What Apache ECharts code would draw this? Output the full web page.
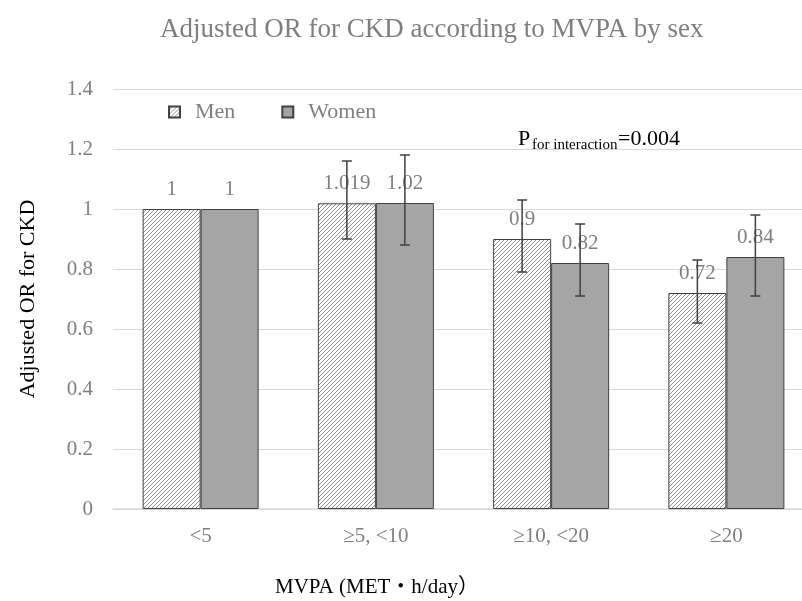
<!DOCTYPE html>
<html><head><meta charset="utf-8">
<script src="https://cdn.jsdelivr.net/npm/echarts@6/dist/echarts.min.js"></script>
<style>html,body{margin:0;padding:0;background:#fff}#c{width:802px;height:601px}</style>
</head><body><div id="c"></div>
<script>
var categories = ['<5', '\u22655, <10', '\u226510, <20', '\u226520'];
var menOR = [1, 1.019, 0.9, 0.72];
var womenOR = [1, 1.02, 0.82, 0.84];
var menLow = [null, 0.90, 0.79, 0.62];
var menHigh = [null, 1.16, 1.03, 0.83];
var womenLow = [null, 0.88, 0.71, 0.71];
var womenHigh = [null, 1.18, 0.95, 0.98];
var menLabels = ['1', '1.019', '0.9', '0.72'];
var womenLabels = ['1', '1.02', '0.82', '0.84'];
var yTicks = {min: 0, max: 1.4, interval: 0.2};

var FONT = '"Liberation Serif", "Times New Roman", "Noto Sans CJK JP", serif';
var GRAY = '#7f7f7f';
var BAR_W = 58;

function hatch() {
  var s = 4, c = document.createElement('canvas');
  c.width = s; c.height = s;
  var g = c.getContext('2d');
  g.fillStyle = '#ffffff'; g.fillRect(0, 0, s, s);
  g.strokeStyle = '#858585'; g.lineWidth = 0.9;
  g.beginPath();
  g.moveTo(0, s); g.lineTo(s, 0);
  g.moveTo(-1, 1); g.lineTo(1, -1);
  g.moveTo(s - 1, s + 1); g.lineTo(s + 1, s - 1);
  g.stroke();
  return c;
}

function errSeries(name, low, high, offset) {
  var data = low.map(function (l, i) { return [i, l, high[i]]; });
  return {
    type: 'custom', name: name + ' CI', silent: true, z: 10,
    data: data,
    renderItem: function (params, api) {
      if (api.value(1) == null || isNaN(api.value(1))) return null;
      var i = api.value(0);
      var p1 = api.coord([i, api.value(1)]);
      var p2 = api.coord([i, api.value(2)]);
      var x = p1[0] + offset, h = 5;
      var st = {stroke: '#404040', lineWidth: 1.5};
      return {type: 'group', children: [
        {type: 'line', shape: {x1: x, y1: p1[1], x2: x, y2: p2[1]}, style: st},
        {type: 'line', shape: {x1: x - h, y1: p1[1], x2: x + h, y2: p1[1]}, style: st},
        {type: 'line', shape: {x1: x - h, y1: p2[1], x2: x + h, y2: p2[1]}, style: st}
      ]};
    }
  };
}

var chart = echarts.init(document.getElementById('c'), null, {renderer: 'canvas'});
var hatchImg = hatch();
var option = {
  backgroundColor: '#ffffff',
  animation: false,
  title: {
    text: 'Adjusted OR for CKD according to MVPA by sex',
    left: 155, top: 11,
    textStyle: {fontFamily: FONT, fontSize: 27, fontWeight: 'normal', color: GRAY}
  },
  legend: {
    left: 163, top: 96, itemWidth: 11, itemHeight: 11, itemGap: 46,
    icon: 'rect',
    data: ['Men', 'Women'],
    textStyle: {fontFamily: FONT, fontSize: 22, color: GRAY, padding: [0, 0, 0, 10]}
  },
  grid: {left: 113, right: -12, top: 89, bottom: 92, outerBoundsMode: 'none', containLabel: false},
  xAxis: {
    type: 'category', data: categories,
    axisLine: {lineStyle: {color: '#d9d9d9', width: 1.5}},
    axisTick: {show: false},
    axisLabel: {fontFamily: FONT, fontSize: 21, color: GRAY, margin: 17}
  },
  yAxis: {
    type: 'value', min: yTicks.min, max: yTicks.max, interval: yTicks.interval,
    name: 'Adjusted OR for CKD', nameLocation: 'middle', nameGap: 74,
    nameTextStyle: {fontFamily: FONT, fontSize: 22, color: '#000'},
    axisLine: {show: false}, axisTick: {show: false},
    splitLine: {lineStyle: {color: '#d9d9d9', width: 1.2}},
    axisLabel: {fontFamily: FONT, fontSize: 21, color: GRAY, margin: 20,
      formatter: function (v) { return String(Math.round(v * 10) / 10); }}
  },
  series: [
    {
      type: 'bar', name: 'Men', barWidth: BAR_W, barGap: '0%',
      data: menOR,
      itemStyle: {color: {image: hatchImg, repeat: 'repeat'}, borderColor: '#404040', borderWidth: 1},
      label: {show: true, position: 'top', distance: 9, fontFamily: FONT, fontSize: 21, color: GRAY,
        formatter: function (p) { return menLabels[p.dataIndex]; }}
    },
    {
      type: 'bar', name: 'Women', barWidth: BAR_W, barGap: '0%',
      data: womenOR,
      itemStyle: {color: '#a5a5a5', borderColor: '#404040', borderWidth: 1},
      label: {show: true, position: 'top', distance: 9, fontFamily: FONT, fontSize: 21, color: GRAY,
        formatter: function (p) { return womenLabels[p.dataIndex]; }}
    },
    errSeries('Men', menLow, menHigh, -BAR_W / 2),
    errSeries('Women', womenLow, womenHigh, BAR_W / 2)
  ],
  graphic: [
    {type: 'text', left: 518, top: 128, style: {text: 'P', font: '22px ' + FONT, fill: '#000'}},
    {type: 'text', left: 532, top: 138, style: {text: 'for interaction', font: '15px ' + FONT, fill: '#000'}},
    {type: 'text', left: 618, top: 128, style: {text: '=0.004', font: '22px ' + FONT, fill: '#000'}},
    {type: 'text', left: 275, top: 577, style: {text: 'MVPA (MET\u30FBh/day\uFF09', font: '21px ' + FONT, fill: '#000'}}
  ]
};
chart.setOption(option);
</script>
</body></html>
